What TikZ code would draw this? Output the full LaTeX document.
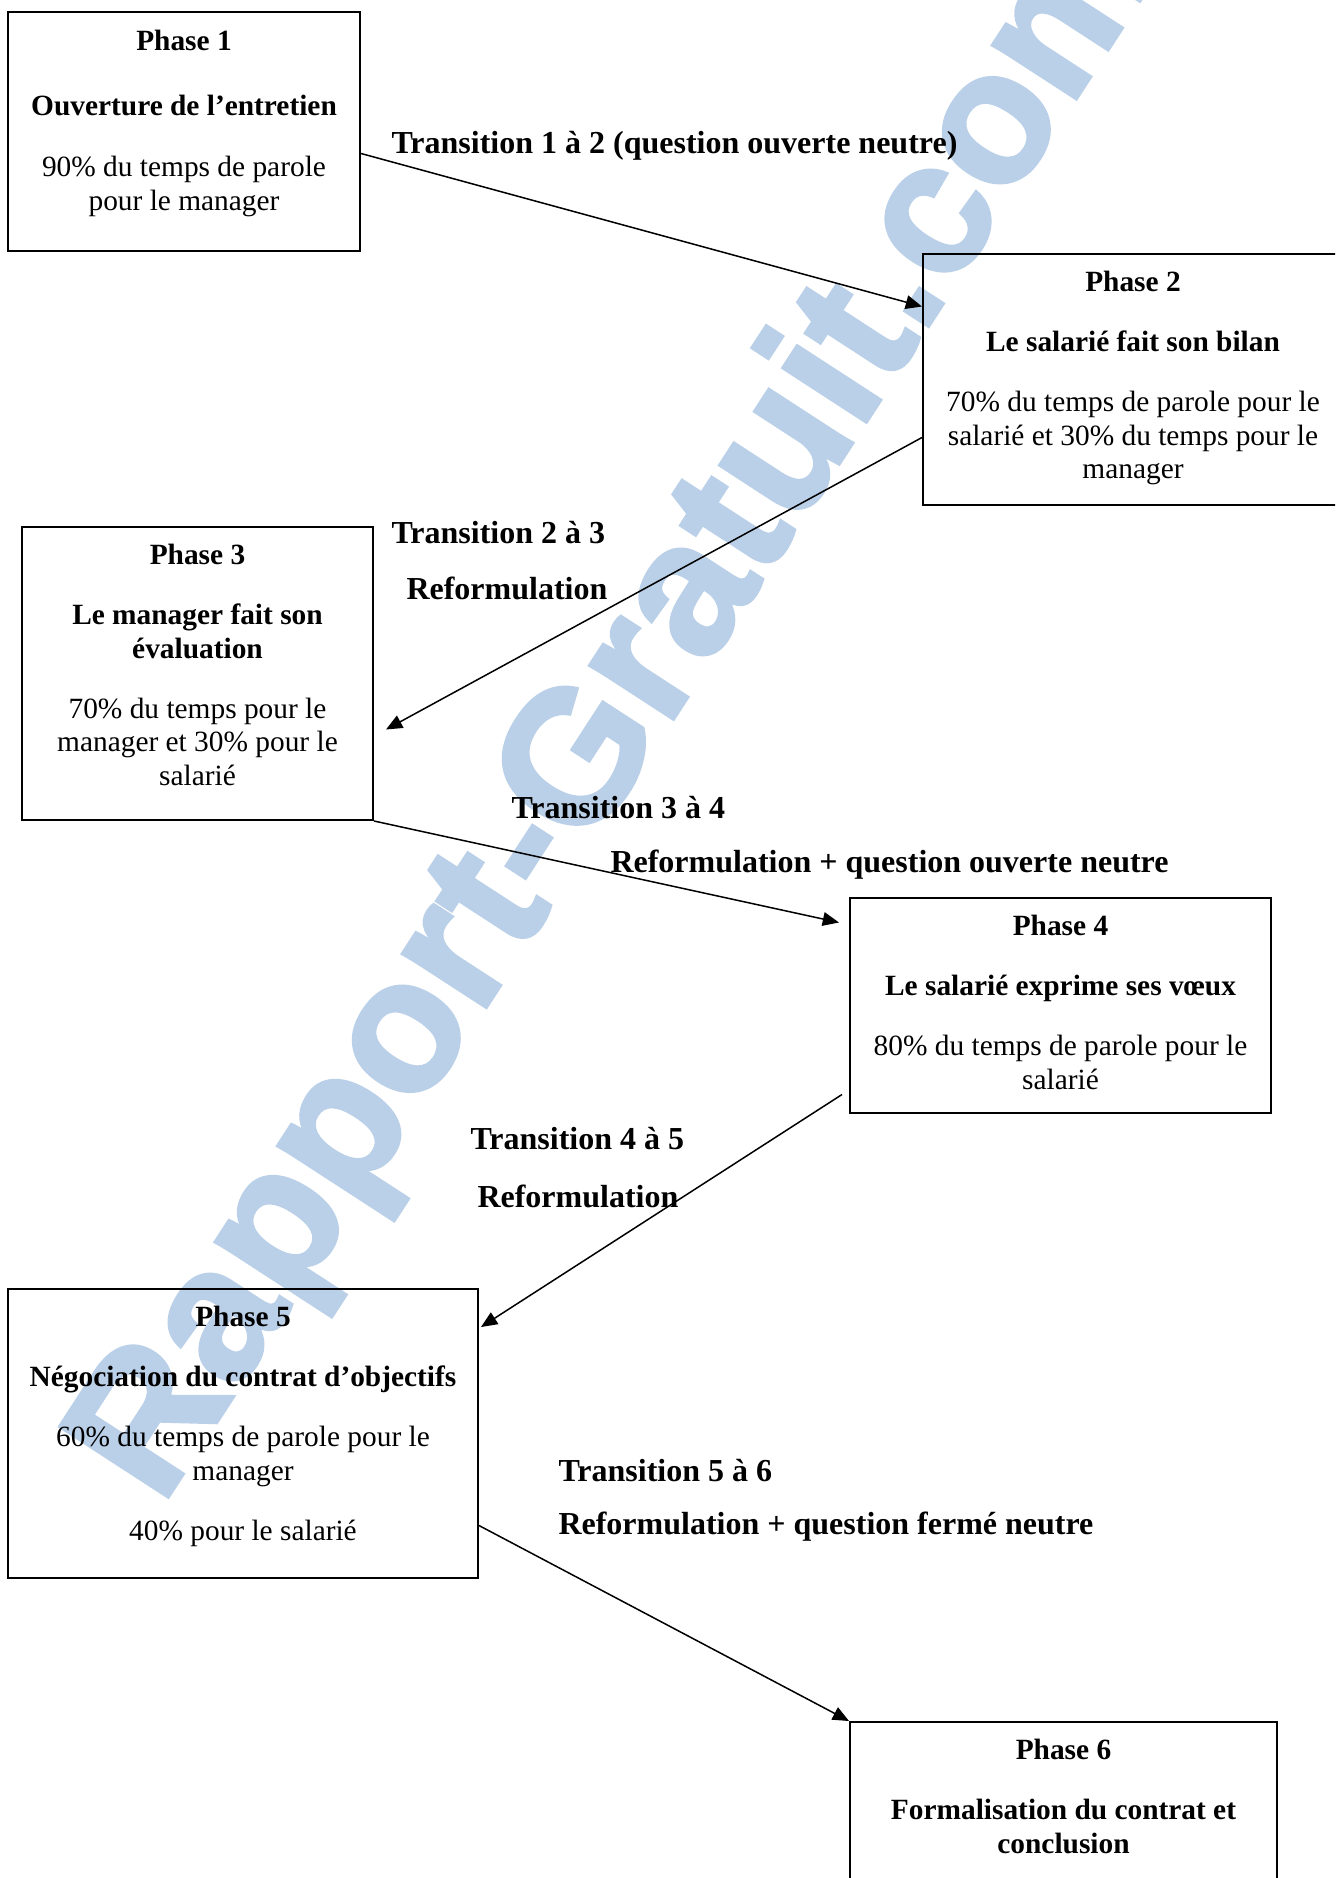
\documentclass[tikz,border=0pt]{standalone}
\usepackage{fontspec}
\setmainfont{Liberation Serif}
\newfontfamily\marquefont[FakeBold=2]{Liberation Sans}
\usetikzlibrary{positioning, fit, calc, arrows.meta}
\definecolor{filigrane}{RGB}{186,208,232}

\begin{document}
\begin{tikzpicture}[
        x=0.4pt, y=-0.4pt,
        phase/.style={draw, line width=0.8pt, inner sep=0pt},
        boxtext/.style={align=center, inner sep=0pt, font=\fontsize{11.75}{13.4}\selectfont},
        trans/.style={anchor=west, inner sep=0pt, font=\fontsize{12.8}{14}\selectfont\bfseries},
        fleche/.style={line width=0.6pt, -{Triangle[length=6.5pt, width=5.5pt]}}
    ]
        % Cadre
        \useasboundingbox (0,0) rectangle (1335,1878);
        \clip (0,0) rectangle (1335,1878);

        % Filigrane
        \node[rotate=57, text=filigrane, font=\marquefont\fontsize{75}{75}\selectfont\bfseries] (marque) at (620,712) {Rapport-Gratuit.com};

        % Phases
        \node[phase, fit={(8,12) (360,251)}] (p1) {};
        \node[phase, fit={(923,254) (1343,505)}] (p2) {};
        \node[phase, fit={(22,527) (373,820)}] (p3) {};
        \node[phase, fit={(850,898) (1271,1113)}] (p4) {};
        \node[phase, fit={(8,1289) (478,1578)}] (p5) {};
        \node[phase, fit={(850,1722) (1277,1920)}] (p6) {};

        % Textes des phases
        \node[boxtext, below=7.6pt of p1.north] (txt1) {\textbf{Phase 1}\\[12.4pt]\textbf{Ouverture de l’entretien}\\[11.1pt]90\% du temps de parole\\pour le manager};
        \node[boxtext, below=7.2pt of p2.north] (txt2) {\textbf{Phase 2}\\[10.6pt]\textbf{Le salarié fait son bilan}\\[10.6pt]70\% du temps de parole pour le\\salarié et 30\% du temps pour le\\manager};
        \node[boxtext, below=7.2pt of p3.north] (txt3) {\textbf{Phase 3}\\[10.6pt]\textbf{Le manager fait son}\\\textbf{évaluation}\\[10.6pt]70\% du temps pour le\\manager et 30\% pour le\\salarié};
        \node[boxtext, below=7.2pt of p4.north] (txt4) {\textbf{Phase 4}\\[10.6pt]\textbf{Le salarié exprime ses vœux}\\[10.6pt]80\% du temps de parole pour le\\salarié};
        \node[boxtext, below=7.2pt of p5.north] (txt5) {\textbf{Phase 5}\\[10.6pt]\textbf{Négociation du contrat d’objectifs}\\[10.6pt]60\% du temps de parole pour le\\manager\\[10.6pt]40\% pour le salarié};
        \node[boxtext, below=7.2pt of p6.north] (txt6) {\textbf{Phase 6}\\[10.6pt]\textbf{Formalisation du contrat et}\\\textbf{conclusion}};

        % Transitions
        \node[trans] (t12) at (391,146) {Transition 1 à 2 (question ouverte neutre)};
        \node[trans] (t23) at (391,533) {Transition 2 à 3};
        \node[trans] (r23) at (406,588) {Reformulation};
        \node[trans] (t34) at (511,808) {Transition 3 à 4};
        \node[trans] (r34) at (610,865) {Reformulation + question ouverte neutre};
        \node[trans] (t45) at (470,1139) {Transition 4 à 5};
        \node[trans] (r45) at (477,1196) {Reformulation};
        \node[trans] (t56) at (558,1471) {Transition 5 à 6};
        \node[trans] (r56) at (558,1527) {Reformulation + question fermé neutre};

        % Fleches
        \draw[fleche] ($(p1.east)+(0,22)$) -- ($(p2.west)+(0,-73)$);
        \draw[fleche] ($(p2.west)+(0,58)$) -- ($(p3.east)+(12,56)$);
        \draw[fleche] (p3.south east) -- ($(p4.west)+(-10,-83)$);
        \draw[fleche] ($(p4.west)+(-7,89)$) -- ($(p5.north east)+(2,39)$);
        \draw[fleche] ($(p5.east)+(0,92)$) -- (p6.north west);
    \end{tikzpicture}
\end{document}
